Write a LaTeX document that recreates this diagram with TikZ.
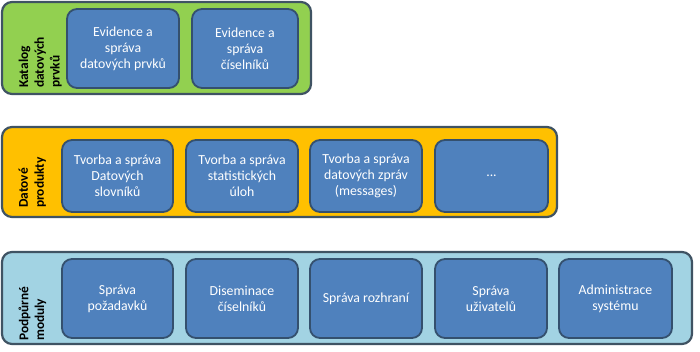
\documentclass[tikz,border=0pt]{standalone}
\usepackage{fontspec}
\setmainfont{Carlito}
\begin{document}
\begin{tikzpicture}[x=1pt,y=-1pt,
  container/.style={draw=cborder, line width=2.2pt, rounded corners=10pt},
  inbox/.style={draw=iborder, fill=ifill, line width=1.8pt, rounded corners=10pt},
  boxtext/.style={text=white, align=center, font=\fontsize{13.8}{16}\selectfont, inner sep=0pt},
  sidelabel/.style={rotate=90, anchor=north west, align=left, inner sep=0pt,
    font=\fontsize{13.4}{15.8}\selectfont\bfseries}]
\definecolor{cborder}{HTML}{3F5363}
\definecolor{iborder}{HTML}{34506E}
\definecolor{ifill}{HTML}{4F81BD}
\definecolor{cgreen}{HTML}{92D050}
\definecolor{corange}{HTML}{FFC000}
\definecolor{cblue}{HTML}{A2D3E3}
\useasboundingbox (0,0) rectangle (700,352);
% top container
\draw[container, fill=cgreen] (2,2) rectangle (311,94);
\node[sidelabel] (l1) at (18.5,88) {Katalog\\datových\\prvků};
\draw[inbox] (67,9) rectangle (179,88);
\node[boxtext] (a1) at (123,48.5) {Evidence a\\správa\\datových prvků};
\draw[inbox] (192,9) rectangle (298,88);
\node[boxtext] (a2) at (245,48.5) {Evidence a\\správa\\číselníků};
% middle container
\draw[container, fill=corange] (2,127) rectangle (557,217);
\node[sidelabel] (l2) at (18.5,208) {Datové\\produkty};
\draw[inbox] (62,140) rectangle (173,212);
\node[boxtext] (b1) at (117.5,176) {Tvorba a správa\\Datových\\slovníků};
\draw[inbox] (186,140) rectangle (298,212);
\node[boxtext] (b2) at (242,176) {Tvorba a správa\\statistických\\úloh};
\draw[inbox] (310,140) rectangle (422,212);
\node[boxtext] (b3) at (366,176) {Tvorba a správa\\datových zpráv\\(messages)};
\draw[inbox] (435,140) rectangle (548,212);
\node[boxtext] (b4) at (491.5,176) {...};
% bottom container
\draw[container, fill=cblue] (2,252) rectangle (692,344);
\node[sidelabel] (l3) at (18.5,341) {Podpůrné\\moduly};
\draw[inbox] (62,259) rectangle (173,338);
\node[boxtext] (c1) at (117.5,298.5) {Správa\\požadavků};
\draw[inbox] (186,259) rectangle (298,338);
\node[boxtext] (c2) at (242,298.5) {Diseminace\\číselníků};
\draw[inbox] (310,259) rectangle (422,338);
\node[boxtext] (c3) at (366,298.5) {Správa rozhraní};
\draw[inbox] (435,259) rectangle (547,338);
\node[boxtext] (c4) at (491,298.5) {Správa\\uživatelů};
\draw[inbox] (559,259) rectangle (672,338);
\node[boxtext] (c5) at (615.5,298.5) {Administrace\\systému};
\end{tikzpicture}
\end{document}
